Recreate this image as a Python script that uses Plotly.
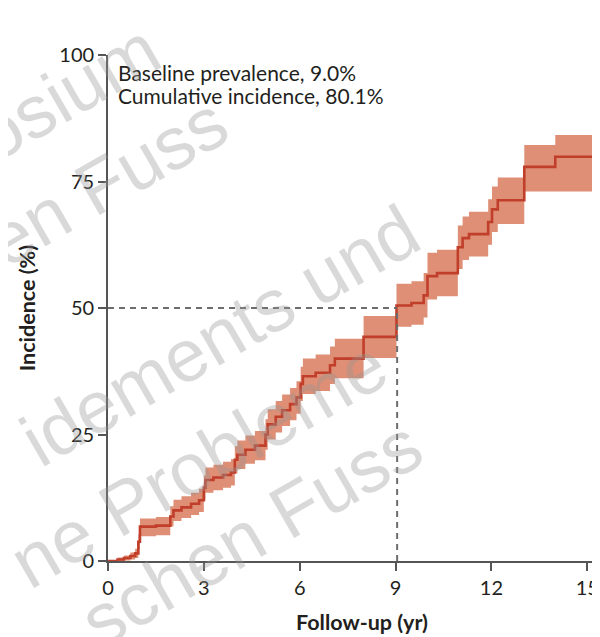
import plotly.graph_objects as go

# ---- data ----
time_yr = [0.00, 0.30, 0.50, 0.70, 0.85, 0.95, 1.00, 1.50, 1.95, 2.05, 2.30, 2.60, 2.85,
           3.00, 3.05, 3.30, 3.60, 3.85, 3.97, 4.05, 4.30, 4.60, 4.93, 5.00, 5.25, 5.45,
           5.70, 5.90, 6.03, 6.10, 6.50, 6.95, 7.10, 8.00, 9.03, 9.50, 9.88, 10.00, 10.30,
           10.95, 11.10, 11.30, 11.90, 12.02, 12.20, 13.03, 14.00, 15.50]
incidence = [0.0, 0.3, 0.6, 1.0, 1.5, 3.8, 6.8, 7.0, 8.8, 10.0, 10.6, 11.3, 12.0,
             14.5, 16.0, 16.5, 17.0, 17.5, 20.0, 21.0, 22.0, 22.8, 25.0, 27.0, 28.5, 29.8,
             31.0, 32.3, 35.0, 36.5, 37.2, 38.7, 40.0, 44.3, 50.5, 51.0, 52.5, 56.3, 56.9,
             62.0, 63.8, 64.6, 67.0, 69.5, 71.3, 77.9, 79.9, 79.9]
ci_lower = [0.0, 0.0, 0.1, 0.3, 0.6, 2.3, 4.9, 5.1, 6.8, 7.9, 8.5, 9.1, 9.7,
            12.1, 13.5, 14.0, 14.5, 14.9, 17.3, 18.2, 19.2, 19.9, 22.0, 24.0, 25.4, 26.7,
            27.8, 29.1, 31.6, 33.0, 33.6, 35.0, 36.1, 40.1, 46.3, 46.7, 48.1, 51.7, 52.3,
            57.7, 59.5, 60.2, 62.5, 65.0, 66.6, 73.0, 73.0, 73.0]
ci_upper = [0.0, 0.7, 1.1, 1.7, 2.4, 5.3, 8.4, 8.7, 10.8, 12.1, 12.8, 13.5, 14.3,
            16.9, 18.5, 19.0, 19.6, 20.1, 22.7, 23.8, 24.8, 25.7, 28.0, 30.0, 31.6, 32.9,
            34.2, 35.5, 38.4, 40.0, 40.8, 42.4, 43.9, 48.4, 54.8, 55.3, 56.9, 60.9, 61.5,
            66.3, 68.1, 69.0, 71.5, 74.0, 75.8, 82.2, 84.2, 84.2]

x_ticks = [0, 3, 6, 9, 12, 15]
y_ticks = [0, 25, 50, 75, 100]
median_time = 9.05
median_level = 50

x_title = "Follow-up (yr)"
y_title = "Incidence (%)"
annot_lines = ["Baseline prevalence, 9.0%", "Cumulative incidence, 80.1%"]
watermark_texts = ["osium", "en Fuss", "idements und", "ne Probleme", "schen Fuss"]

# ---- styling ----
LINE_COL = "rgb(192,62,42)"
BAND_COL = "rgb(222,143,118)"
AXIS_COL = "#555555"
TXT_COL = "#231f20"
FONT = "Lato"

OFF = 8                      # default page margin around the plot div
W, H = 600 - OFF, 637 - OFF
ML, MR, MT, MB = 100, 0, 47, 76
PW, PH = W - ML - MR, H - MT - MB


def px2paper(px, py):
    """screen pixel -> paper coordinates"""
    return (px - OFF - ML) / PW, (H - MB - (py - OFF)) / PH


fig = go.Figure()
fig.add_trace(go.Scatter(x=time_yr, y=ci_lower, mode="lines", line=dict(width=0, shape="hv"),
                         hoverinfo="skip", showlegend=False))
fig.add_trace(go.Scatter(x=time_yr, y=ci_upper, mode="lines", line=dict(width=0, shape="hv"),
                         fill="tonexty", fillcolor=BAND_COL, hoverinfo="skip", showlegend=False))
fig.add_trace(go.Scatter(x=time_yr, y=incidence, mode="lines",
                         line=dict(color=LINE_COL, width=2.6, shape="hv"), showlegend=False))

# median reference lines
fig.add_shape(type="line", x0=0, x1=median_time, y0=median_level, y1=median_level,
              line=dict(color="#6d6d6d", width=2, dash="6px,5px"), layer="above")
fig.add_shape(type="line", x0=median_time, x1=median_time, y0=0, y1=median_level,
              line=dict(color="#6d6d6d", width=2, dash="6px,5px"), layer="above")

# text box
for i, t in enumerate(annot_lines):
    xp, yp = px2paper(116, 58 + 23 * i)
    fig.add_annotation(text=t, xref="paper", yref="paper", x=xp, y=yp, xanchor="left",
                       yanchor="top", showarrow=False, font=dict(family=FONT, size=21, color=TXT_COL))

# x-axis title
xp, yp = px2paper(362, 622)
fig.add_annotation(text="<b>" + x_title + "</b>", xref="paper", yref="paper", x=xp, y=yp,
                   xanchor="center", yanchor="middle", showarrow=False,
                   font=dict(family=FONT, size=21.5, color=TXT_COL))

# watermark (anchored at the right/top of each rotated text box)
wm_pos = [(176, 5), (244, 77), (436, 186), (404, 320), (438, 400)]
for t, (cx, cy) in zip(watermark_texts, wm_pos):
    xp, yp = px2paper(cx, cy)
    fig.add_annotation(text=t, xref="paper", yref="paper", x=xp, y=yp, xanchor="right",
                       yanchor="top", showarrow=False, textangle=-30,
                       font=dict(family="Liberation Sans", size=74,
                                 color="rgba(150,150,150,0.36)"))

fig.update_layout(
    width=W, height=H, margin=dict(l=ML, r=MR, t=MT, b=MB, autoexpand=False),
    paper_bgcolor="white", plot_bgcolor="white",
    font=dict(family=FONT, color=TXT_COL),
    xaxis=dict(range=[0, 15.4], tickvals=x_ticks, ticks="outside", ticklen=8, tickwidth=1.5,
               tickcolor=AXIS_COL, showline=True, linecolor=AXIS_COL, linewidth=1.8,
               showgrid=False, zeroline=False, tickfont=dict(size=20, family=FONT, color=TXT_COL)),
    yaxis=dict(range=[0, 100], tickvals=y_ticks, ticks="outside", ticklen=8, tickwidth=1.5,
               tickcolor=AXIS_COL, showline=True, linecolor=AXIS_COL, linewidth=1.8,
               showgrid=False, zeroline=False, tickfont=dict(size=20, family=FONT, color=TXT_COL),
               title=dict(text="<b>" + y_title + "</b>", font=dict(size=21.5, family=FONT, color=TXT_COL),
                          standoff=18)),
)

fig.write_html("out.html")
